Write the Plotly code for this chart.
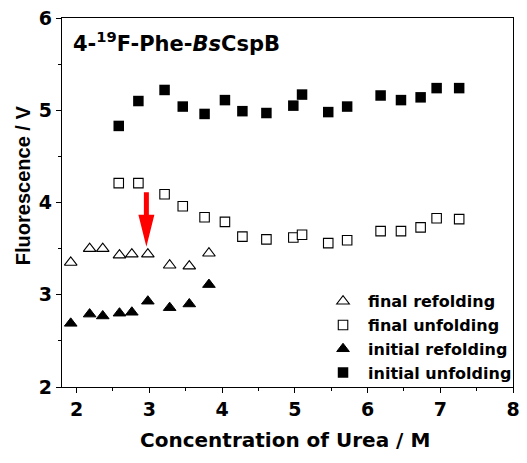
import plotly.graph_objects as go

# Urea concentrations (M)
urea_refolding = [1.92, 2.18, 2.36, 2.59, 2.76, 2.98, 3.28, 3.55, 3.82]
urea_unfolding = [2.58, 2.85, 3.21, 3.46, 3.76, 4.04, 4.28, 4.61, 4.98, 5.10,
                  5.46, 5.72, 6.18, 6.46, 6.73, 6.95, 7.26]

# Fluorescence signals (V)
final_refolding = [3.35, 3.50, 3.50, 3.43, 3.44, 3.44, 3.32, 3.31, 3.45]
initial_refolding = [2.69, 2.79, 2.77, 2.80, 2.81, 2.93, 2.86, 2.90, 3.11]
final_unfolding = [4.21, 4.21, 4.09, 3.96, 3.84, 3.79, 3.63, 3.60, 3.62, 3.65,
                   3.56, 3.59, 3.69, 3.69, 3.73, 3.83, 3.82]
initial_unfolding = [4.83, 5.10, 5.22, 5.04, 4.96, 5.11, 4.99, 4.97, 5.05, 5.17,
                     4.98, 5.04, 5.16, 5.11, 5.14, 5.24, 5.24]

# Highlighted point: arrow from (x, top) down to (x, tip)
arrow_x = 2.96
arrow_top = 4.11
arrow_tip = 3.52

x_range = [1.8, 8.0]
y_range = [2.0, 6.0]
x_ticks = [2, 3, 4, 5, 6, 7, 8]
y_ticks = [2, 3, 4, 5, 6]

W, H = 527, 463
M = dict(l=62, r=7, t=17, b=76)

WIDE = "DejaVu Sans"
ARIAL = "Liberation Sans, Arial"

fig = go.Figure()

fig.add_trace(go.Scatter(
    x=urea_refolding, y=final_refolding, mode="markers", name="final refolding",
    marker=dict(symbol="triangle-up", size=11, color="white",
                line=dict(color="black", width=1.1))))
fig.add_trace(go.Scatter(
    x=urea_unfolding, y=final_unfolding, mode="markers", name="final unfolding",
    marker=dict(symbol="square", size=9.5, color="white",
                line=dict(color="black", width=1.1))))
fig.add_trace(go.Scatter(
    x=urea_refolding, y=initial_refolding, mode="markers", name="initial refolding",
    marker=dict(symbol="triangle-up", size=11, color="black",
                line=dict(color="black", width=1))))
fig.add_trace(go.Scatter(
    x=urea_unfolding, y=initial_unfolding, mode="markers", name="initial unfolding",
    marker=dict(symbol="square", size=10.5, color="black",
                line=dict(width=0))))

# Red arrow: drawn in pixels around the tip so the head keeps its shape
plot_h = H - M["t"] - M["b"]
px_per_v = plot_h / (y_range[1] - y_range[0])
shaft_len = (arrow_top - arrow_tip) * px_per_v
head_len, head_half, shaft_half = 32, 8, 2.5
arrow_path = (f"M0,0 L{-head_half},{head_len} L{-shaft_half},{head_len} "
              f"L{-shaft_half},{shaft_len:.1f} L{shaft_half},{shaft_len:.1f} "
              f"L{shaft_half},{head_len} L{head_half},{head_len} Z")
fig.add_shape(type="path", xref="x", yref="y",
              xsizemode="pixel", ysizemode="pixel",
              xanchor=arrow_x, yanchor=arrow_tip,
              path=arrow_path, fillcolor="#ff0000", line=dict(width=0))

axis_common = dict(
    showgrid=False, zeroline=False, showline=True, linecolor="black",
    linewidth=1.2, mirror=True, ticks="outside", ticklen=5, tickwidth=1.2,
    tickcolor="black",
    tickfont=dict(family=WIDE, size=19, color="black", weight="bold"),
)

fig.update_xaxes(range=x_range, tickvals=x_ticks,
                 minor=dict(dtick=0.5, ticks="outside", ticklen=3,
                            tickwidth=1.2, tickcolor="black"),
                 **axis_common)
fig.update_yaxes(range=y_range, tickvals=y_ticks,
                 minor=dict(dtick=0.5, ticks="outside", ticklen=3,
                            tickwidth=1.2, tickcolor="black"),
                 **axis_common)

plot_w = W - M["l"] - M["r"]

fig.add_annotation(
    text="4-<sup>19</sup>F-Phe-<i>Bs</i>CspB", xref="paper", yref="paper",
    x=(71 - M["l"]) / plot_w, y=1 - (41 - M["t"]) / plot_h,
    xanchor="left", yanchor="middle", showarrow=False,
    font=dict(family=WIDE, size=21, color="black", weight="bold"))

fig.add_annotation(
    text="Concentration of Urea / M", xref="paper", yref="paper",
    x=(288 - M["l"]) / plot_w, y=-(440 - (H - M["b"])) / plot_h,
    xanchor="center", yanchor="middle", showarrow=False,
    font=dict(family=WIDE, size=20, color="black", weight="bold"))

fig.add_annotation(
    text="Fluorescence / V", xref="paper", yref="paper", textangle=-90,
    x=-(M["l"] - 22) / plot_w, y=((H - M["b"]) - 185) / plot_h,
    xanchor="center", yanchor="middle", showarrow=False,
    font=dict(family=ARIAL, size=20, color="black", weight="bold"))

fig.update_layout(
    width=W, height=H, margin=M,
    paper_bgcolor="white", plot_bgcolor="white",
    showlegend=True,
    legend=dict(x=(322 - M["l"]) / plot_w, y=((H - M["b"]) - 284) / plot_h,
                xanchor="left", yanchor="top", bgcolor="rgba(0,0,0,0)",
                font=dict(family=WIDE, size=16, color="black", weight="bold"),
                itemwidth=40),
)

fig.write_html("out.html")
